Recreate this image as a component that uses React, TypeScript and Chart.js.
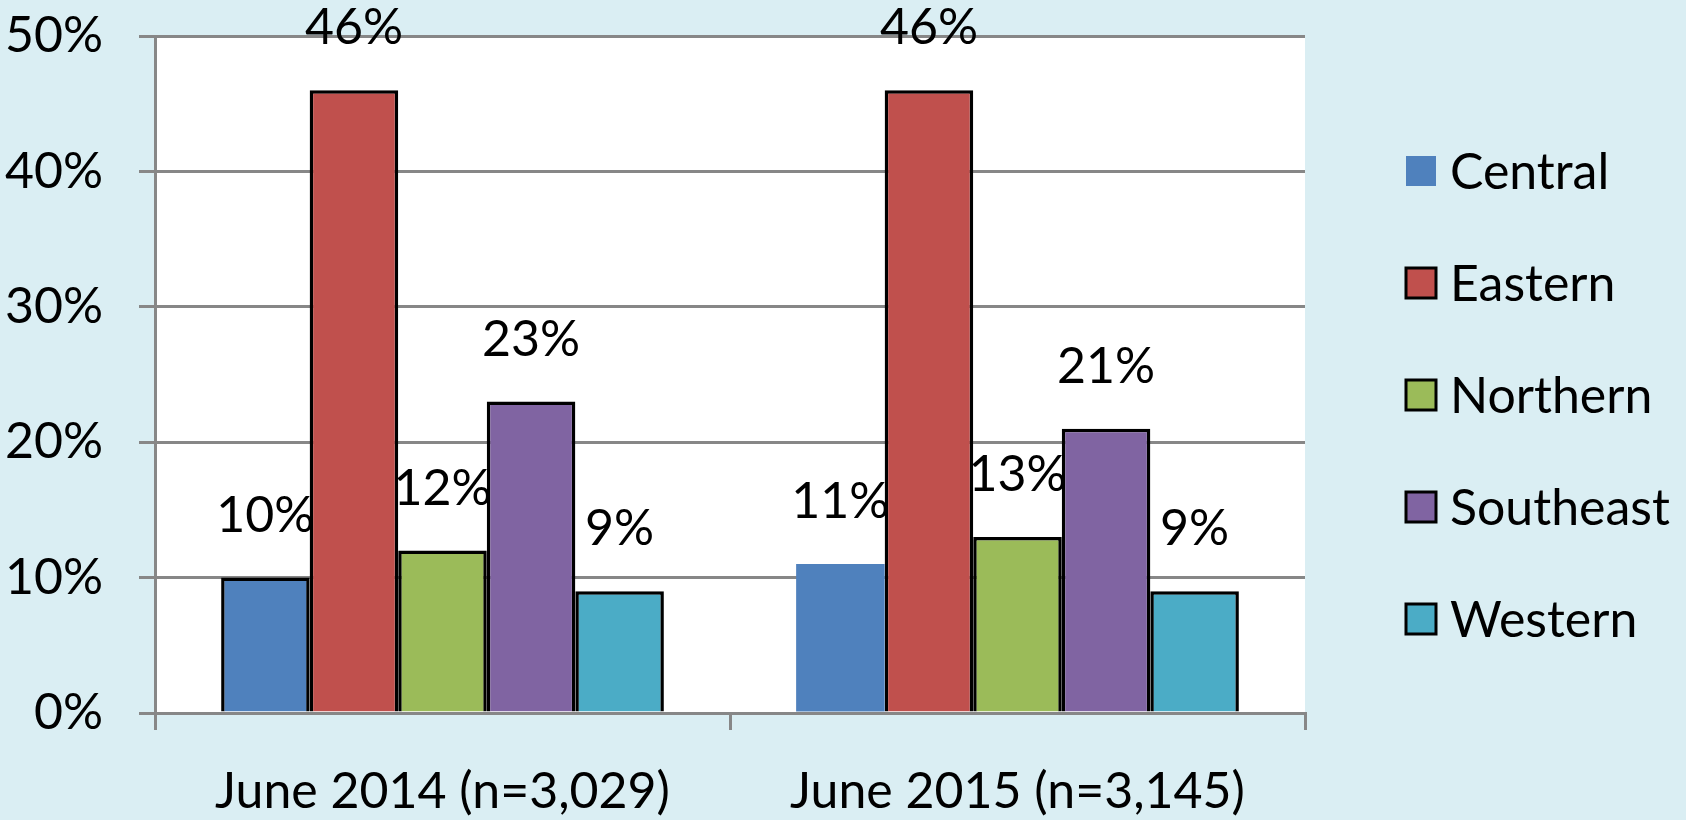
import React, { useEffect, useRef } from "react";
import { Chart, registerables } from "chart.js";

Chart.register(...registerables);

const categories = ["June 2014 (n=3,029)", "June 2015 (n=3,145)"];
const seriesNames = ["Central", "Eastern", "Northern", "Southeast", "Western"];
const central = [10, 11];
const eastern = [46, 46];
const northern = [12, 13];
const southeast = [23, 21];
const western = [9, 9];
const yTicks = [0, 10, 20, 30, 40, 50];

const colors = ["#4F81BD", "#C0504D", "#9BBB59", "#8064A2", "#4BACC6"];
const centralBorders = [3.5, 0];

const FONT = "Lato";
const FS = 50;
const BG = "#DAEEF3";
const GRID = "#878787";

const bgPlugin = {
  id: "bgPlugin",
  beforeDraw(chart: any) {
    const { ctx, chartArea } = chart;
    ctx.save();
    ctx.fillStyle = BG;
    ctx.fillRect(0, 0, chart.width, chart.height);
    ctx.fillStyle = "#FFFFFF";
    ctx.fillRect(chartArea.left, chartArea.top, chartArea.right - chartArea.left, chartArea.bottom - chartArea.top);
    ctx.restore();
  },
};

const labelPlugin = {
  id: "labelPlugin",
  afterDatasetsDraw(chart: any) {
    const { ctx } = chart;
    ctx.save();
    ctx.font = `${FS}px ${FONT}`;
    ctx.fillStyle = "#000";
    ctx.textAlign = "center";
    ctx.textBaseline = "middle";
    chart.data.datasets.forEach((ds: any, di: number) => {
      const meta = chart.getDatasetMeta(di);
      meta.data.forEach((el: any, i: number) => {
        ctx.fillText(`${ds.data[i]}%`, el.x, el.y - 62);
      });
    });
    ctx.restore();
  },
};

const legendPlugin = {
  id: "legendPlugin",
  afterDraw(chart: any) {
    const { ctx, chartArea } = chart;
    ctx.save();
    ctx.font = `${FS}px ${FONT}`;
    ctx.textAlign = "left";
    ctx.textBaseline = "middle";
    const bx = chartArea.right + 101;
    const size = 30;
    chart.data.datasets.forEach((ds: any, i: number) => {
      const cy = 171 + i * 112;
      ctx.fillStyle = ds.backgroundColor;
      ctx.fillRect(bx, cy - size / 2, size, size);
      if (i > 0) {
        ctx.strokeStyle = "#000";
        ctx.lineWidth = 3;
        ctx.strokeRect(bx, cy - size / 2, size, size);
      }
      ctx.fillStyle = "#000";
      ctx.fillText(ds.label, bx + 44, cy + 2);
    });
    ctx.restore();
  },
};

export default function App() {
  const ref = useRef<HTMLCanvasElement>(null);
  useEffect(() => {
    if (!ref.current) return;
    const values = [central, eastern, northern, southeast, western];
    const chart = new Chart(ref.current, {
      type: "bar",
      data: {
        labels: categories,
        datasets: seriesNames.map((name, i) => ({
          label: name,
          data: values[i],
          backgroundColor: colors[i],
          borderColor: "#000000",
          borderWidth: i === 0 ? centralBorders : 3.5,
          borderSkipped: "bottom",
          categoryPercentage: 0.77,
          barPercentage: 1.0,
        })),
      },
      options: {
        responsive: false,
        animation: false,
        events: [],
        layout: { padding: { top: 36, right: 381, left: 0, bottom: 0 } },
        plugins: {
          legend: { display: false },
          tooltip: { enabled: false },
        },
        scales: {
          x: {
            offset: true,
            afterFit: (s: any) => {
              s.height = 107;
              s.paddingLeft = 0;
              s.paddingRight = 0;
            },
            grid: {
              offset: true,
              drawOnChartArea: false,
              drawTicks: true,
              tickLength: 17,
              color: GRID,
              lineWidth: 3,
            },
            border: { color: GRID, width: 3 },
            ticks: {
              color: "#000",
              font: { family: FONT, size: FS },
              padding: 32,
              maxRotation: 0,
            },
          },
          y: {
            min: 0,
            max: 50,
            afterFit: (s: any) => {
              s.width = 155;
              s.paddingTop = 0;
              s.paddingBottom = 0;
            },
            afterBuildTicks: (s: any) => { s.ticks = yTicks.map((v) => ({ value: v })); },
            grid: {
              color: GRID,
              lineWidth: 3,
              tickLength: 16,
            },
            border: { color: GRID, width: 3 },
            ticks: {
              color: "#000",
              font: { family: FONT, size: FS },
              padding: 36,
              callback: (v: any) => `${v}%`,
            },
          },
        },
      },
      plugins: [bgPlugin, labelPlugin, legendPlugin],
    });
    return () => chart.destroy();
  }, []);
  return (
    <div style={{ position: "fixed", left: 0, top: 0, width: 1686, height: 820 }}>
      <canvas ref={ref} width={1686} height={820} style={{ display: "block", width: 1686, height: 820 }} />
    </div>
  );
}
